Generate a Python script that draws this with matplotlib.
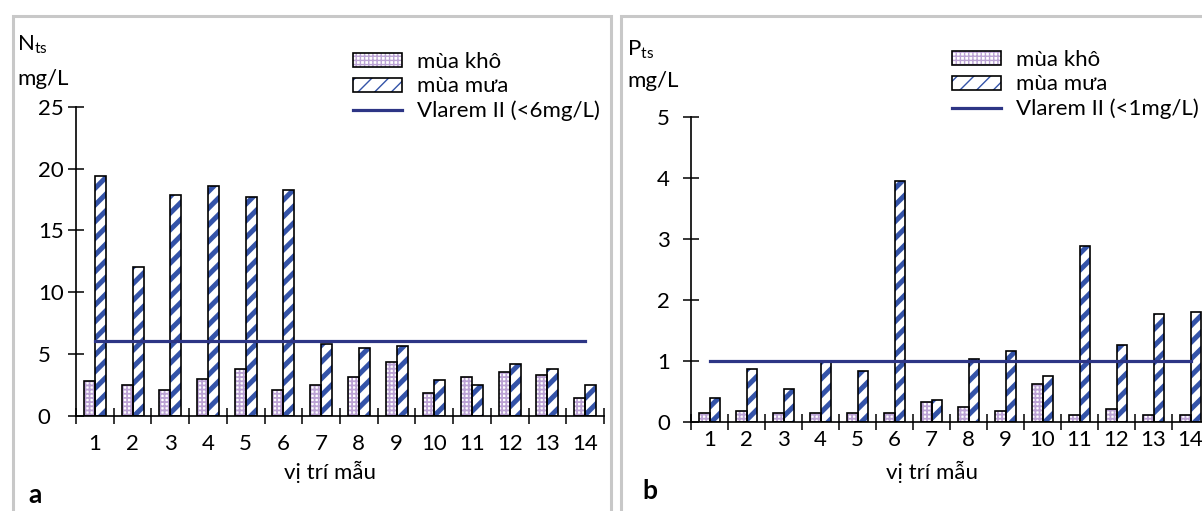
#!/usr/bin/env python
"""Total N / total P per sampling site, dry vs rainy season, with Vlarem II limit."""
import matplotlib

matplotlib.use("Agg")
import matplotlib.pyplot as plt
import numpy as np
from matplotlib.legend_handler import HandlerTuple
from matplotlib.lines import Line2D
from matplotlib.patches import Patch, Rectangle

plt.rcParams["font.family"] = ["Lato", "Noto Sans", "DejaVu Sans"]

W, H, DPI = 1202, 511, 100
FS = 16

sites = [str(i) for i in range(1, 15)]
# panel a: N_ts (mg/L)
n_dry = [2.8, 2.5, 2.1, 2.95, 3.8, 2.1, 2.5, 3.1, 4.3, 1.8, 3.1, 3.55, 3.25, 1.45]
n_wet = [19.4, 12.0, 17.9, 18.6, 17.7, 18.3, 5.8, 5.5, 5.65, 2.9, 2.5, 4.15, 3.8, 2.5]
n_limit = 6
n_ticks = [0, 5, 10, 15, 20, 25]
# panel b: P_ts (mg/L)
p_dry = [0.14, 0.18, 0.14, 0.14, 0.14, 0.14, 0.33, 0.24, 0.18, 0.63, 0.11, 0.21, 0.11, 0.11]
p_wet = [0.39, 0.87, 0.54, 0.98, 0.84, 3.95, 0.36, 1.04, 1.17, 0.75, 2.89, 1.26, 1.77, 1.80]
p_limit = 1
p_ticks = [0, 1, 2, 3, 4, 5]

season_labels = ["mùa khô", "mùa mưa"]
x_label = "vị trí mẫu"

LAV = "#bba2d4"
BLUE = "#3453a8"
NAVY = "#2d3585"
FRAME = "#c8c8c8"
DRY_HATCH, WET_HATCH = "++++", "//"
DRY_HLW, WET_HLW = 1.3, 3.6


def px_axes(fig, x0, x1, ytop, ybot):
    # pixel box (y from top) -> figure fraction
    return fig.add_axes([x0 / W, 1 - ybot / H, (x1 - x0) / W, (ybot - ytop) / H])


def hatch_lw(bars, lw):
    for b in bars:
        if hasattr(b, "set_hatch_linewidth"):
            b.set_hatch_linewidth(lw)


def panel(ax, dry, wet, limit, yticks, ypad, xpad, limit_label):
    x = np.arange(len(sites)) + 0.5
    w = 0.29
    d = ax.bar(x - w / 2, dry, w, color="white", edgecolor=LAV, hatch=DRY_HATCH, linewidth=0)
    m = ax.bar(x + w / 2, wet, w, color="white", edgecolor=BLUE, hatch=WET_HATCH, linewidth=0)
    hatch_lw(d, DRY_HLW)
    hatch_lw(m, WET_HLW)
    ax.bar(x - w / 2, dry, w, fill=False, edgecolor="black", linewidth=1.2)
    ax.bar(x + w / 2, wet, w, fill=False, edgecolor="black", linewidth=1.2)
    ax.plot([x[0], x[-1]], [limit, limit], color=NAVY, lw=2.3)

    ax.set_xlim(0, len(sites))
    ax.set_ylim(yticks[0], yticks[-1])
    ax.set_xticks(np.arange(len(sites) + 1))
    ax.set_xticklabels([])
    ax.set_xticks(x, minor=True)
    ax.set_xticklabels(sites, minor=True)
    ax.set_yticks(yticks)
    ax.tick_params(axis="both", which="major", direction="inout", length=11, width=1.1,
                   labelsize=FS, colors="black")
    ax.tick_params(axis="x", which="minor", length=0, pad=xpad, labelsize=FS)
    ax.tick_params(axis="y", pad=ypad)
    for t in ax.get_yticklabels():
        t.set_horizontalalignment("left")
    for s in ("top", "right"):
        ax.spines[s].set_visible(False)
    for s in ("left", "bottom"):
        ax.spines[s].set_linewidth(1.2)

    hd = (Patch(facecolor="white", edgecolor=LAV, hatch=DRY_HATCH, linewidth=0),
          Patch(fill=False, edgecolor="black", linewidth=1.2))
    hm = (Patch(facecolor="white", edgecolor=BLUE, hatch=WET_HATCH, linewidth=0),
          Patch(fill=False, edgecolor="black", linewidth=1.2))
    hatch_lw([hd[0]], DRY_HLW)
    hatch_lw([hm[0]], WET_HLW)
    hl = Line2D([], [], color=NAVY, lw=2.3)
    return [hd, hm, hl], season_labels + [limit_label]


def add_legend(ax, h, l, x0, top):
    ax.legend(h, l, handler_map={tuple: HandlerTuple(ndivide=1)}, loc="upper left",
              bbox_to_anchor=(x0 / W, 1 - top / H), bbox_transform=fig.transFigure,
              frameon=False, fontsize=FS, borderpad=0, borderaxespad=0,
              handlelength=2.2, handleheight=0.6, handletextpad=0.68, labelspacing=0.2)


fig = plt.figure(figsize=(W / DPI, H / DPI), dpi=DPI)

# grey panel frames
for x0, x1 in ((12.5, 611), (621, 1230)):
    fig.patches.append(Rectangle((x0 / W, -0.1), (x1 - x0) / W, 1.1 - 16.5 / H,
                                 transform=fig.transFigure, fill=False,
                                 edgecolor=FRAME, linewidth=2.2))

ax1 = px_axes(fig, 76, 604, 107, 415.5)
h, l = panel(ax1, n_dry, n_wet, n_limit, n_ticks, 22, 13, "Vlarem II (<6mg/L)")
add_legend(ax1, h, l, 353, 52)

ax2 = px_axes(fig, 691, 1209, 117, 422)
h, l = panel(ax2, p_dry, p_wet, p_limit, p_ticks, 19, 6, "Vlarem II (<1mg/L)")
add_legend(ax2, h, l, 952, 50)

# unit labels, x labels, panel letters
fig.text(17 / W, 1 - 50 / H, r"N$_{\mathregular{ts}}$", fontsize=FS, va="baseline")
fig.text(17 / W, 1 - 85 / H, "mg/L", fontsize=FS, va="baseline")
fig.text(627 / W, 1 - 55 / H, r"P$_{\mathregular{ts}}$", fontsize=FS, va="baseline")
fig.text(627 / W, 1 - 87 / H, "mg/L", fontsize=FS, va="baseline")
fig.text(330 / W, 1 - 479 / H, x_label, fontsize=FS, ha="center", va="baseline")
fig.text(932 / W, 1 - 479 / H, x_label, fontsize=FS, ha="center", va="baseline")
fig.text(28 / W, 1 - 503 / H, "a", fontsize=19, fontweight="bold", va="baseline")
fig.text(642 / W, 1 - 499 / H, "b", fontsize=19, fontweight="bold", va="baseline")

fig.savefig("out.png", dpi=DPI)
